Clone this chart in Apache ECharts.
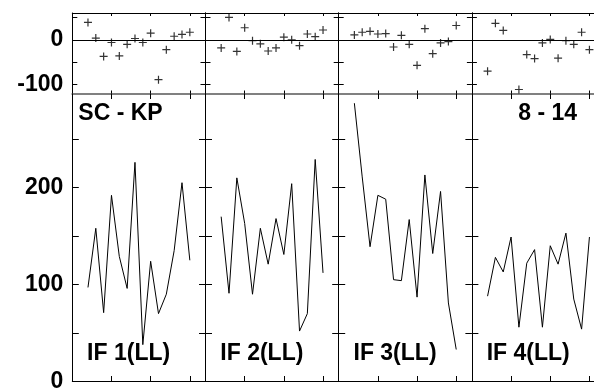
<!DOCTYPE html>
<html><head><meta charset="utf-8">
<script src="https://cdn.jsdelivr.net/npm/echarts@6/dist/echarts.min.js"></script>
<style>html,body{margin:0;padding:0;background:#fff}#c{width:594px;height:389px}</style>
</head><body><div id="c"></div>
<script>
// ---- data ----
const xPos = [2,3,4,5,6,7,8,9,10,11,12,13,14,15];
const panelNames = ['IF 1(LL)','IF 2(LL)','IF 3(LL)','IF 4(LL)'];
const cornerLeft = 'SC - KP';
const cornerRight = '8 - 14';
const line1 = [97, 158, 71, 192, 129, 96, 226, 38, 124, 70, 90, 135, 205, 125];
const line2 = [170, 91, 210, 163, 90, 158, 121, 168, 131, 204, 52, 70, 229, 112];
const line3 = [287, 211, 139, 192, 188, 105, 104, 167, 87, 213, 132, 196, 81, 33];
const line4 = [88, 128, 113, 149, 56, 122, 136, 56, 140, 121, 153, 85, 54, 149];
const resid1 = [39, 4, -37, -6, -36, -10, 3, -6, 15, -89, -22, 8, 12, 17];
const resid2 = [-18, 50, -26, 27, -2, -9, -25, -18, 6, 0, -13, 13, 7, 22];
const resid3 = [11, 17, 19, 13, 14, -16, 10, -10, -57, 25, -31, -7, -4, 32];
const resid4 = [-70, 37, 21, null, -111, -33, -42, -7, 1, -41, -2, -10, 17, -22];
const topTickValues = [-100, -50, 0, 50];
const topLabelValues = [-100, 0];
const bottomTickValues = [50, 100, 150, 200, 250];
const bottomLabelValues = [0, 100, 200];

const lines = [line1, line2, line3, line4];
const resids = [resid1, resid2, resid3, resid4];

// ---- layout ----
const FONT = "'Liberation Sans', Arial, Helvetica, sans-serif";
const panelLeft = 72.3, panelW = 133.2;
const topT = 13, topH = 80.5, botT = 93.5, botH = 288;

const grids = [], xAxes = [], yAxes = [], series = [], graphics = [];
const pair = arr => arr.map((v, i) => [xPos[i], v]);

for (let k = 0; k < 4; k++) {
  const left = panelLeft + panelW * k;
  [0, 1].forEach(row => {
    const gi = 2 * k + row;
    const isTop = row === 0;
    grids.push({left: left, width: panelW, top: isTop ? topT : botT, height: isTop ? topH : botH,
      containLabel: false, outerBoundsMode: 'none'});
    const tickLenX = isTop ? 3 : 5.5;
    const tickLenY = isTop ? 5 : 6.5;
    xAxes.push({
      type: 'value', gridIndex: gi, position: 'bottom', min: 0, max: 17, interval: 5,
      axisLine: {show: true, onZero: false, lineStyle: isTop ? {color: '#808080', width: 2} : {color: '#000', width: 1}},
      axisTick: {show: true, inside: true, length: tickLenX, lineStyle: {color: '#000'}},
      axisLabel: {show: false}, splitLine: {show: false}
    });
    xAxes.push({
      type: 'value', gridIndex: gi, position: 'top', min: 0, max: 17, interval: 5,
      axisLine: {show: isTop, onZero: false, lineStyle: {color: '#000', width: 1}},
      axisTick: {show: true, inside: true, length: tickLenX, lineStyle: {color: '#000'}},
      axisLabel: {show: false}, splitLine: {show: false}
    });
    const ymin = isTop ? -120 : 0, ymax = isTop ? 60 : 297;
    const ticks = isTop ? topTickValues : bottomTickValues;
    const labs = isTop ? topLabelValues : bottomLabelValues;
    yAxes.push({
      type: 'value', gridIndex: gi, position: 'left', min: ymin, max: ymax,
      axisLine: {show: true, onZero: false, lineStyle: {color: '#000', width: 1}},
      axisTick: {show: true, inside: true, length: tickLenY, customValues: ticks, lineStyle: {color: '#000'}},
      axisLabel: {show: k === 0, customValues: labs, margin: 9, color: '#000',
        fontFamily: FONT, fontWeight: 'bold', fontSize: 23, padding: [4, 0, 0, 0]},
      splitLine: {show: false}
    });
    yAxes.push({
      type: 'value', gridIndex: gi, position: 'right', min: ymin, max: ymax,
      axisLine: {show: true, onZero: false, lineStyle: {color: '#000', width: 1}},
      axisTick: {show: true, inside: true, length: tickLenY, customValues: ticks, lineStyle: {color: '#000'}},
      axisLabel: {show: false}, splitLine: {show: false}
    });
    if (isTop) {
      series.push({
        type: 'scatter', xAxisIndex: 2 * gi, yAxisIndex: 2 * gi,
        data: pair(resids[k]),
        symbol: 'path://M0,5L10,5M5,0L5,10', symbolSize: 8,
        itemStyle: {color: 'transparent', borderColor: '#000', borderWidth: 1.2},
        silent: true,
        markLine: {silent: true, symbol: 'none', label: {show: false},
          lineStyle: {color: '#000', width: 1, type: 'solid'},
          data: [{yAxis: 0}], animation: false}
      });
    } else {
      series.push({
        type: 'line', xAxisIndex: 2 * gi, yAxisIndex: 2 * gi,
        data: pair(lines[k]), showSymbol: false, symbol: 'none',
        lineStyle: {color: '#000', width: 1}, silent: true
      });
    }
  });
  graphics.push({
    type: 'text', x: left + 14.8, y: 354,
    style: {text: panelNames[k], font: 'bold 23px ' + FONT, fill: '#000', textVerticalAlign: 'middle'}
  });
}
graphics.push({type: 'text', x: 78.3, y: 114,
  style: {text: cornerLeft, font: 'bold 23px ' + FONT, fill: '#000', textVerticalAlign: 'middle'}});
graphics.push({type: 'text', x: 518.3, y: 114,
  style: {text: cornerRight, font: 'bold 23px ' + FONT, fill: '#000', textVerticalAlign: 'middle'}});

const chart = echarts.init(document.getElementById('c'), null, {renderer: 'canvas'});
chart.setOption({
  animation: false,
  backgroundColor: '#fff',
  grid: grids, xAxis: xAxes, yAxis: yAxes, series: series,
  graphic: graphics
});
</script></body></html>
